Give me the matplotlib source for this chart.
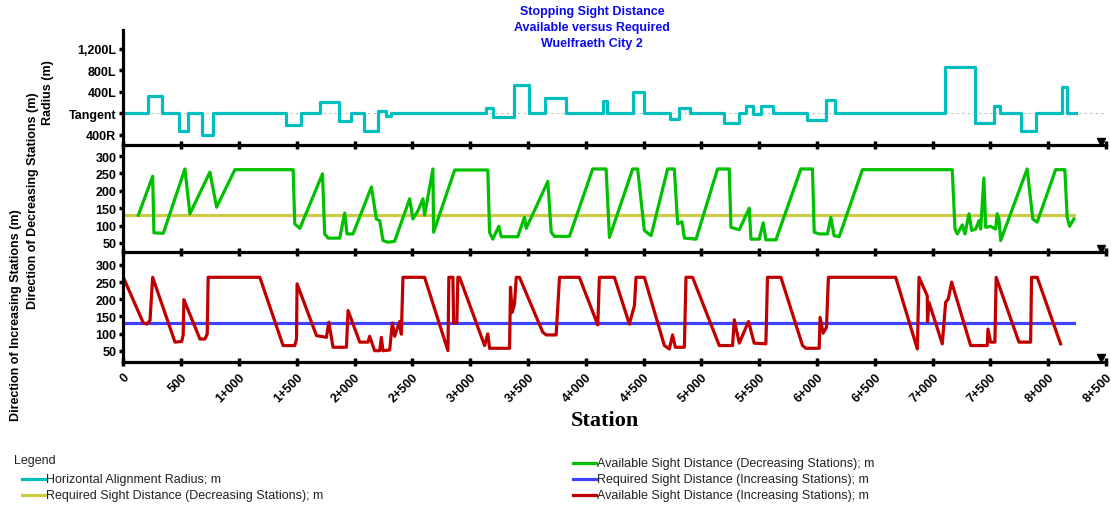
import matplotlib.pyplot as plt
from matplotlib.lines import Line2D

plt.rcParams['font.family'] = ['Liberation Sans', 'DejaVu Sans']

# ---- data ----
# horizontal alignment radius (step), L = positive, R = negative
radius_sta = [0, 216, 332, 481, 562, 683, 778, 1406, 1541, 1699, 1864, 1968,
              2082, 2203, 2276, 2319, 3140, 3197, 3378, 3508, 3646, 3825, 4147,
              4181, 4406, 4507, 4729, 4803, 4902, 5192, 5322, 5386, 5449, 5515,
              5616, 5918, 6077, 6157, 7105, 7367, 7531, 7580, 7762, 7891, 8116,
              8164, 8237]
radius_val = [0, 320, 0, -340, 0, -410, 0, -220, 0, 200, -155, 0,
              -340, 45, -50, 0, 95, -70, 520, 0, 275, 0, 230,
              0, 385, 0, -110, 85, 0, -185, 0, 125, -15, 125,
              0, -125, 250, 0, 860, -190, 125, 0, -330, 0, 490,
              0, 0]

# available sight distance, decreasing stations
dec_sta = [130, 254, 265, 346, 533, 576, 749, 807, 965, 1469, 1483, 1527,
           1723, 1742, 1771, 1872, 1915, 1935, 1987, 2146, 2189, 2218, 2246,
           2289, 2347, 2477, 2505, 2549, 2592, 2606, 2678, 2684, 2866, 3153,
           3168, 3196, 3248, 3269, 3412, 3470, 3485, 3672, 3701, 3729, 3859,
           4060, 4176, 4205, 4406, 4449, 4507, 4565, 4708, 4766, 4795, 4833,
           4853, 4954, 5140, 5241, 5256, 5328, 5414, 5429, 5500, 5535, 5558,
           5645, 5861, 5961, 5976, 6019, 6091, 6120, 6148, 6192, 6393, 7170,
           7194, 7214, 7257, 7280, 7315, 7338, 7373, 7401, 7416, 7444, 7459,
           7502, 7545, 7559, 7574, 7589, 7818, 7867, 7905, 8064, 8144, 8164,
           8185, 8222]
dec_avail = [130, 242, 79, 78, 263, 134, 254, 153, 261, 261, 105, 92,
             249, 76, 64, 64, 136, 76, 76, 211, 119, 114, 57,
             52, 55, 177, 119, 143, 177, 130, 263, 81, 260, 260,
             81, 61, 98, 68, 68, 124, 92, 227, 81, 69, 69,
             263, 263, 66, 263, 263, 86, 71, 263, 263, 105, 111,
             64, 61, 263, 263, 95, 88, 150, 61, 61, 108, 59,
             59, 263, 263, 81, 76, 76, 124, 71, 68, 261, 261,
             90, 76, 102, 76, 134, 86, 90, 114, 90, 237, 95,
             98, 90, 134, 119, 57, 263, 119, 110, 261, 261, 124,
             98, 119]

# available sight distance, increasing stations
inc_sta = [0, 173, 205, 231, 254, 447, 505, 518, 524, 663, 706, 726, 734,
           1181, 1382, 1483, 1498, 1503, 1671, 1757, 1777, 1800, 1814, 1930,
           1944, 2045, 2117, 2131, 2174, 2218, 2232, 2246, 2304, 2327, 2347,
           2390, 2405, 2419, 2606, 2808, 2816, 2851, 2857, 2885, 2894, 2909,
           3125, 3153, 3168, 3341, 3349, 3364, 3384, 3399, 3427, 3628, 3658,
           3744, 3773, 3945, 4104, 4118, 4248, 4377, 4421, 4435, 4507, 4680,
           4723, 4751, 4775, 4853, 4867, 4924, 5155, 5270, 5285, 5328, 5408,
           5457, 5558, 5572, 5688, 5875, 5904, 6019, 6027, 6053, 6082, 6099,
           6681, 6868, 6883, 6954, 6956, 6969, 7084, 7113, 7136, 7165, 7329,
           7473, 7479, 7502, 7539, 7550, 7747, 7848, 7856, 7905, 8107]
inc_avail = [264, 131, 128, 138, 264, 75, 77, 96, 199, 84, 84, 99, 264,
             264, 65, 65, 84, 245, 94, 89, 133, 89, 60, 60,
             167, 75, 75, 92, 50, 50, 89, 50, 52, 131, 92,
             135, 98, 264, 264, 50, 264, 264, 131, 131, 264, 264,
             65, 99, 57, 57, 235, 162, 186, 264, 264, 104, 96,
             96, 264, 264, 125, 264, 264, 128, 181, 264, 264, 65,
             55, 96, 60, 60, 264, 264, 65, 65, 140, 72, 135,
             72, 70, 264, 264, 65, 57, 57, 147, 101, 118, 264,
             264, 55, 264, 210, 135, 191, 70, 191, 201, 250, 65,
             65, 113, 75, 75, 264, 75, 75, 264, 264, 70]

req_sta = [0, 8222]
req_dec = [130, 130]
req_inc = [130, 130]

station_ticks = [0, 500, 1000, 1500, 2000, 2500, 3000, 3500, 4000, 4500,
                 5000, 5500, 6000, 6500, 7000, 7500, 8000, 8500]
station_labels = ['0', '500', '1+000', '1+500', '2+000', '2+500', '3+000',
                  '3+500', '4+000', '4+500', '5+000', '5+500', '6+000',
                  '6+500', '7+000', '7+500', '8+000', '8+500']
radius_ticks = [1200, 800, 400, 0, -400]
radius_labels = ['1,200L', '800L', '400L', 'Tangent', '400R']
sd_ticks = [50, 100, 150, 200, 250, 300]

c_cyan = '#00BEBE'
c_green = '#00C000'
c_yellow = '#CCCC44'
c_blue = '#4040FF'
c_red = '#C00000'

fig = plt.figure(figsize=(11.11, 5.06), dpi=100)
W, H = 1111, 506


def px_axes(x0, y0, x1, y1):
    return fig.add_axes([x0 / W, 1 - y1 / H, (x1 - x0) / W, (y1 - y0) / H])


ax1 = px_axes(123.3, 31, 1106, 146)
ax2 = px_axes(123.3, 146, 1106, 253)
ax3 = px_axes(123.3, 255, 1106, 363)

for ax in (ax1, ax2, ax3):
    ax.set_xlim(0, 8500)
    ax.patch.set_alpha(0)
    for s in ('top', 'right'):
        ax.spines[s].set_visible(False)
    for s in ('left', 'bottom'):
        ax.spines[s].set_linewidth(2.3)
    ax.set_xticks(station_ticks)
    ax.tick_params(axis='x', direction='inout', length=6, width=2.5)
    ax.tick_params(axis='y', direction='out', length=3, width=2.5, pad=2,
                   labelsize=9)

# top panel: radius
ax1.axhline(0, color='#BBBBBB', lw=0.8, ls=(0, (2, 3)), zorder=1)
ax1.step(radius_sta, radius_val, where='post', color=c_cyan, lw=2.3)
ax1.set_ylim(-595, 1545)
ax1.set_yticks(radius_ticks)
ax1.set_yticklabels(radius_labels, fontweight='bold', fontsize=9)
ax1.set_xticklabels([])

# middle panel: decreasing stations
ax2.plot(req_sta, req_dec, color=c_yellow, lw=2.3)
ax2.plot(dec_sta, dec_avail, color=c_green, lw=2.3)
ax2.set_ylim(24, 332)
ax2.set_yticks(sd_ticks)
ax2.set_yticklabels([str(v) for v in sd_ticks], fontweight='bold', fontsize=9)
ax2.set_xticklabels([])

# lower panel: increasing stations
ax3.plot(req_sta, req_inc, color=c_blue, lw=2.3)
ax3.plot(inc_sta, inc_avail, color=c_red, lw=2.3)
ax3.set_ylim(17, 332)
ax3.set_yticks(sd_ticks)
ax3.set_yticklabels([str(v) for v in sd_ticks], fontweight='bold', fontsize=9)
ax3.set_xticklabels(station_labels, rotation=45, ha='right', va='top',
                    rotation_mode='anchor', fontweight='bold', fontsize=9)
ax3.tick_params(axis='x', pad=3)

# small end markers
for ypx in (142.5, 250, 359):
    fig.add_artist(Line2D([1101 / W], [1 - ypx / H], marker='v', color='black',
                          markersize=6, linestyle='none'))

# titles
title_lines = ['Stopping Sight Distance', 'Available versus Required',
               'Wuelfraeth City 2']
for i, t in enumerate(title_lines):
    fig.text(592 / W, 1 - (12 + 16 * i) / H, t, ha='center', va='center',
             color='#0A0AF0', fontweight='bold', fontsize=9)

# axis labels
fig.text(48 / W, 1 - 93 / H, 'Radius (m)', rotation=90, ha='center',
         va='center', fontweight='bold', fontsize=9)
fig.text(33 / W, 1 - 201 / H, 'Direction of Decreasing Stations (m)',
         rotation=90, ha='center', va='center', fontweight='bold', fontsize=9)
fig.text(16 / W, 1 - 315 / H, 'Direction of Increasing Stations (m)',
         rotation=90, ha='center', va='center', fontweight='bold', fontsize=9)
fig.text(605 / W, 1 - 421 / H, 'Station', ha='center', va='center',
         fontweight='bold', fontsize=16, family='Liberation Serif')

# legend
fig.text(14 / W, 1 - 461 / H, 'Legend', ha='left', va='center', fontsize=9,
         color='#222222')
legend_items = [
    (22, 480, c_cyan, 'Horizontal Alignment Radius; m'),
    (22, 496, c_yellow, 'Required Sight Distance (Decreasing Stations); m'),
    (573, 464, c_green, 'Available Sight Distance (Decreasing Stations); m'),
    (573, 480, c_blue, 'Required Sight Distance (Increasing Stations); m'),
    (573, 496, c_red, 'Available Sight Distance (Increasing Stations); m'),
]
for x0, y0, col, lab in legend_items:
    fig.add_artist(Line2D([x0 / W, (x0 + 23) / W], [1 - y0 / H, 1 - y0 / H],
                          color=col, lw=2.3))
    fig.text((x0 + 24) / W, 1 - y0 / H, lab, ha='left', va='center',
             fontsize=9, color='#222222')

fig.savefig('out.png', dpi=100)
